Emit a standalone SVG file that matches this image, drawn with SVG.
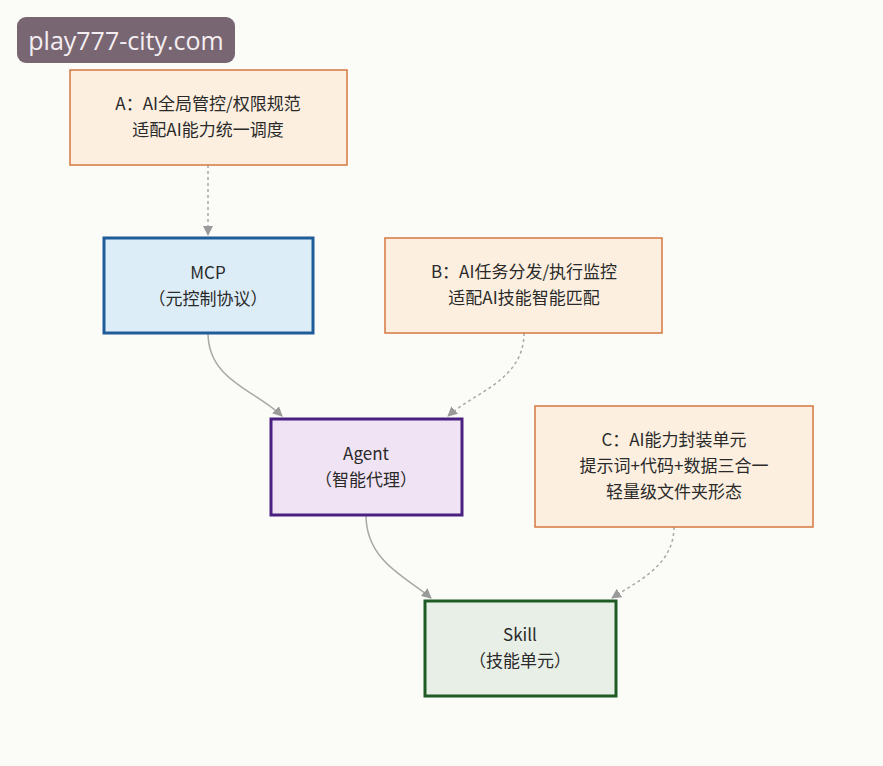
<svg xmlns="http://www.w3.org/2000/svg" width="883" height="766" viewBox="0 0 883 766">
<style>
.t{font-family:"Noto Sans CJK SC","Noto Sans",sans-serif;font-size:17px;fill:#2a2a2a;text-anchor:middle}
.note{fill:#fcefe0;stroke:#d6783f;stroke-width:1.5}
.edge{fill:none;stroke:#a8a8a8;stroke-width:1.5}
.dot{stroke-dasharray:3 3}
</style>
<defs>
<marker id="ah" viewBox="0 0 10 10" refX="9" refY="5" markerWidth="10" markerHeight="10" markerUnits="userSpaceOnUse" orient="auto">
<path d="M0,0 L10,5 L0,10 z" fill="#9a9a9a"/>
</marker>
</defs>
<rect width="883" height="766" fill="#fbfbf8"/>
<g id="edges">
<path class="edge dot" d="M208,165 L208,235" marker-end="url(#ah)"/>
<path class="edge" d="M208,333 C208,380 255,390 282,416" marker-end="url(#ah)"/>
<path class="edge dot" d="M524,333 C524,380 475,392 448,416" marker-end="url(#ah)"/>
<path class="edge" d="M366,515 C366,562 408,578 431,598" marker-end="url(#ah)"/>
<path class="edge dot" d="M674,527 C674,566 636,582 612,598" marker-end="url(#ah)"/>
</g>
<g id="nodeA">
<rect class="note" x="70" y="70" width="277" height="95"/>
<text class="t" x="208" y="110">A：AI全局管控/权限规范</text>
<text class="t" x="208" y="136">适配AI能力统一调度</text>
</g>
<g id="nodeMCP">
<rect x="104" y="238" width="209" height="95" fill="#ddedf8" stroke="#1f5c99" stroke-width="3"/>
<text class="t" x="208" y="279">MCP</text>
<text class="t" x="208" y="305">（元控制协议）</text>
</g>
<g id="nodeB">
<rect class="note" x="385" y="238" width="277" height="95"/>
<text class="t" x="524" y="278">B：AI任务分发/执行监控</text>
<text class="t" x="524" y="304">适配AI技能智能匹配</text>
</g>
<g id="nodeAgent">
<rect x="271" y="419" width="191" height="96" fill="#f0e3f4" stroke="#4a2180" stroke-width="3"/>
<text class="t" x="366" y="460">Agent</text>
<text class="t" x="366" y="486">（智能代理）</text>
</g>
<g id="nodeC">
<rect class="note" x="535" y="406" width="278" height="121"/>
<text class="t" x="674" y="446">C：AI能力封装单元</text>
<text class="t" x="674" y="472">提示词+代码+数据三合一</text>
<text class="t" x="674" y="498">轻量级文件夹形态</text>
</g>
<g id="nodeSkill">
<rect x="425" y="601" width="191" height="95" fill="#e8efe6" stroke="#1f5b25" stroke-width="3"/>
<text class="t" x="520" y="641">Skill</text>
<text class="t" x="520" y="667">（技能单元）</text>
</g>
<g id="watermark">
<rect x="17" y="17" width="218" height="46" rx="9" fill="#786672"/>
<text x="126" y="50" font-family="'Open Sans','Noto Sans',sans-serif" font-size="25" fill="#f4eef2" text-anchor="middle">play777-city.com</text>
</g>
</svg>
